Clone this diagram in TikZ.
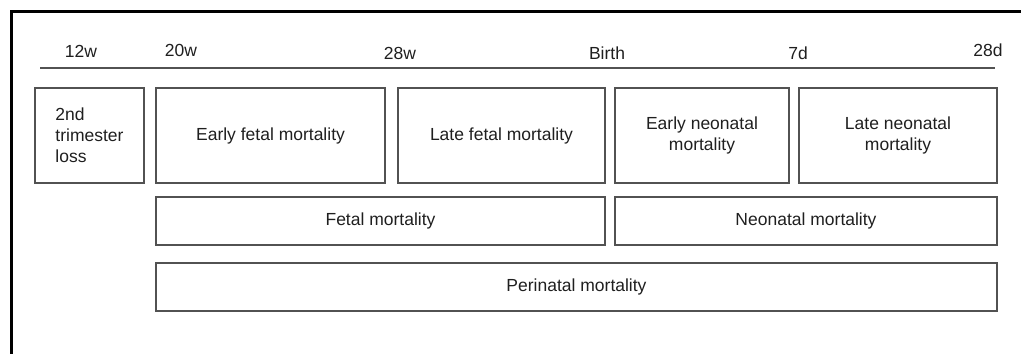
\documentclass[tikz,border=0pt]{standalone}
\usepackage{fontspec}
\setmainfont{Liberation Sans}
\begin{document}
\begin{tikzpicture}[x=1pt,y=-1pt,
    period/.style={draw=black!68, line width=1.3pt, inner sep=0pt, align=center,
      text=black!88, font=\fontsize{17.5}{21}\selectfont},
    tick/.style={text=black!88, inner sep=0pt, font=\fontsize{17.5}{21}\selectfont}]
    \useasboundingbox (0,0) rectangle (1021,354);
    % frame
    \coordinate (fr) at (1021,11);
    \coordinate (fc) at (11,11);
    \coordinate (fb) at (11,354);
    \draw[line width=3pt] (fr) -- (fc) -- (fb);
    % time line
    \coordinate (tl) at (40,68);
    \coordinate (tr) at (995,68);
    \draw[black!68, line width=1.3pt] (tl) -- (tr);
    \node[tick] (w12) at (81,51) {12w};
    \node[tick] (w20) at (181,50) {20w};
    \node[tick] (w28) at (400,53) {28w};
    \node[tick] (birth) at (607,53) {Birth};
    \node[tick] (d7) at (798,53) {7d};
    \node[tick] (d28) at (988,50) {28d};
    % first row
    \node[period, align=left, minimum width=109pt, minimum height=95pt] (loss) at (89.5,135.5) {2nd\\trimester\\loss};
    \node[period, minimum width=229pt, minimum height=95pt] (earlyfetal) at (270.5,135.5) {Early fetal mortality};
    \node[period, minimum width=207pt, minimum height=95pt] (latefetal) at (501.5,135.5) {Late fetal mortality};
    \node[period, minimum width=174pt, minimum height=95pt] (earlyneo) at (702,135.5) {Early neonatal\\mortality};
    \node[period, minimum width=198pt, minimum height=95pt] (lateneo) at (898,135.5) {Late neonatal\\mortality};
    % second row
    \node[period, minimum width=449pt, minimum height=48pt] (fetal) at (380.5,221) {Fetal mortality};
    \node[period, minimum width=382pt, minimum height=48pt] (neonatal) at (806,221) {Neonatal mortality};
    % third row
    \node[period, minimum width=841pt, minimum height=48pt] (perinatal) at (576.5,287) {Perinatal mortality};
\end{tikzpicture}
\end{document}
